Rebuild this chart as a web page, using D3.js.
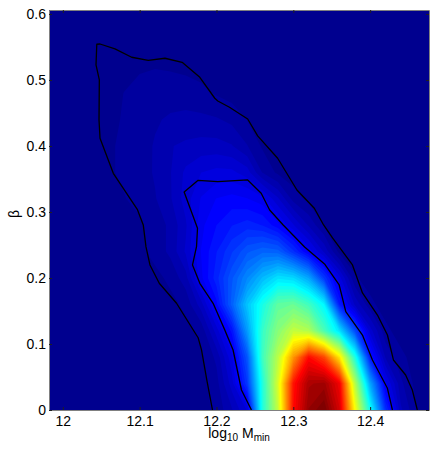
<!DOCTYPE html>
<html>
<head>
<meta charset="utf-8">
<title>log10 Mmin vs beta</title>
<script src="https://d3js.org/d3.v7.min.js"></script>
<style>
 body { margin: 0; background: #fff; }
 text { font-family: "Liberation Sans", Arial, sans-serif; fill: #000; }
 .axis path { stroke: #808080; fill: none; }
 .axis line { stroke: #202020; }
 .axis text { font-size: 14px; }
 .contour { fill: none; stroke: #000; stroke-width: 1.3; stroke-linejoin: round; }
</style>
</head>
<body>
<div id="chart"></div>
<script>
var xTicks = [12, 12.1, 12.2, 12.3, 12.4];
var yTicks = [0, 0.1, 0.2, 0.3, 0.4, 0.5, 0.6];

// grid columns of the density table
var massGrid = [12.04,12.06,12.08,12.10,12.12,12.14,12.16,12.18,12.20,12.22,12.24,12.26,12.28,12.30,12.32,12.34,12.36,12.38,12.40,12.42,12.44,12.46,12.48];
var betaGrid = [0,0.04,0.08,0.12,0.16,0.20,0.24,0.28,0.32,0.36,0.40,0.44,0.48,0.52,0.56,0.60];

// density in percent of the peak, one row per betaGrid value
var density = [
  [0,0,0,0,0.1,0.2,0.4,0.8,2,4.5,8,40,56,86,97,100,91,62,38,16,5,1.7,0.5],
  [0,0,0,0.1,0.2,0.3,0.6,1,2.5,7,17,40,58,85,95,96,88,55,28,10,3.5,1,0.3],
  [0,0,0,0.1,0.2,0.4,1,1.4,3.5,9,20,43,55,72,86,80,64,40,14,4.5,2,0.8,0.2],
  [0,0,0.1,0.2,0.3,0.5,1,2,7,13,27,42,50,56,54,44,34,19,7,2,0.8,0.3,0.1],
  [0,0.1,0.1,0.3,0.5,1,2,5.5,12,21,31,39,46,47,43,36,14,6,2,0.8,0.3,0.1,0],
  [0,0.1,0.2,0.4,1,2,4,10.5,15,20,25,30,34,33,28,17,8.5,1.8,0.8,0.3,0.1,0,0],
  [0.1,0.2,0.4,1.1,2.2,3.5,6.5,11,14,17,20,21.5,21,16,10.5,6,1,0.5,0.2,0.1,0,0,0],
  [0.1,0.3,0.7,1.3,2.2,3.5,6,10.5,12.5,14,14.8,14,11.5,8,4.5,1.5,0.6,0.2,0.1,0,0,0,0],
  [0.2,0.8,1.5,2,3,4.5,7,9.5,11,11.5,11,10,6.5,2.5,1,0.4,0.2,0.1,0,0,0,0,0],
  [0.7,1.4,1.8,2.4,3.3,4.6,6.6,7.8,8.3,8.2,7,3,1.2,0.5,0.2,0.1,0,0,0,0,0,0,0],
  [0.6,1.4,1.8,2.3,3.3,4.6,5,5.3,5.3,4.8,3.2,1.3,0.6,0.2,0.1,0,0,0,0,0,0,0,0],
  [0.4,1.2,1.7,2.2,2.9,3.4,3.6,3.5,3.3,2.7,1.5,0.7,0.3,0.1,0,0,0,0,0,0,0,0,0],
  [0.3,1,1.6,2,2.2,2.3,2.3,2,1.4,0.9,0.5,0.2,0.1,0,0,0,0,0,0,0,0,0,0],
  [0.1,0.5,1,1.4,1.5,1.4,1.2,0.9,0.5,0.3,0.1,0,0,0,0,0,0,0,0,0,0,0,0],
  [0,0.2,0.4,0.5,0.5,0.5,0.4,0.3,0.2,0.1,0,0,0,0,0,0,0,0,0,0,0,0,0],
  [0,0,0,0,0,0,0,0,0,0,0,0,0,0,0,0,0,0,0,0,0,0,0]
];

// outer confidence contour [log10 Mmin, beta]
var outerContour = [[12.1948,0],[12.1878,0.043],[12.1805,0.091],[12.1761,0.1095],[12.148,0.1617],[12.1255,0.192],[12.1134,0.2197],[12.1082,0.2474],[12.1047,0.2803],[12.0969,0.3041],[12.0657,0.3586],[12.0484,0.4117],[12.0471,0.4394],[12.0475,0.5],[12.0432,0.5227],[12.0442,0.5541],[12.0484,0.5545],[12.0679,0.547],[12.0896,0.5344],[12.1112,0.5298],[12.1329,0.5329],[12.1553,0.5268],[12.1783,0.5041],[12.1978,0.4723],[12.2017,0.4682],[12.2169,0.4586],[12.2406,0.4409],[12.2536,0.4152],[12.2796,0.3814],[12.3047,0.3333],[12.3273,0.3056],[12.3394,0.2803],[12.351,0.2606],[12.377,0.2197],[12.39,0.1773],[12.4095,0.1439],[12.4225,0.1136],[12.4303,0.0758],[12.4462,0.053],[12.4549,0.0303],[12.4614,0]];

// inner confidence contour
var innerContour = [[12.2455,0],[12.2325,0.0303],[12.2216,0.0909],[12.2108,0.1212],[12.1956,0.1617],[12.1783,0.192],[12.1688,0.2197],[12.174,0.2474],[12.1753,0.2753],[12.1579,0.3303],[12.1761,0.348],[12.2017,0.3459],[12.2406,0.3485],[12.2582,0.3283],[12.2692,0.303],[12.2868,0.2803],[12.3147,0.247],[12.3406,0.2212],[12.3597,0.1894],[12.3683,0.1489],[12.39,0.1136],[12.403,0.0758],[12.4225,0.0329],[12.429,0]];

var margin = {top:10,right:7,bottom:40,left:49};
var width = 436 - margin.left - margin.right;
var height = 450 - margin.top - margin.bottom;

var xScale = d3.scaleLinear().domain([11.982, 12.4766]).range([0, width]);
var yScale = d3.scaleLinear().domain([0, 0.606]).range([height, 0]);

var svg = d3.select("#chart").append("svg")
  .attr("width", 436)
  .attr("height", 450)
  .style("display", "block")
  .append("g")
  .attr("transform", "translate(" + margin.left + "," + margin.top + ")");

svg.append("clipPath").attr("id", "plot-clip")
  .append("rect").attr("width", width).attr("height", height);

// matlab style jet with 64 steps
function jet(k) {
  var t = (k + 1) / 64;
  function c(o) { return Math.round(255 * Math.max(0, Math.min(1, 1.5 - Math.abs(4 * t - o)))); }
  return "rgb(" + c(3) + "," + c(2) + "," + c(1) + ")";
}

var plot = svg.append("g").attr("clip-path", "url(#plot-clip)");

plot.append("rect")
  .attr("width", width)
  .attr("height", height)
  .attr("fill", jet(0));

var thresholds = d3.range(1, 64).map(function(k) { return k * 100 / 64; });
var contours = d3.contours()
  .size([massGrid.length, betaGrid.length])
  .thresholds(thresholds)(density.flat());

// contour coordinates sit half a cell off the grid index
var gridToPx = d3.geoTransform({
  point: function(cx, cy) {
    var mass = massGrid[0] + (cx - 0.5) * (massGrid[1] - massGrid[0]);
    var beta = betaGrid[0] + (cy - 0.5) * (betaGrid[1] - betaGrid[0]);
    this.stream.point(xScale(mass), yScale(beta));
  }
});
var gridPath = d3.geoPath(gridToPx);

plot.selectAll(".band")
  .data(contours)
  .enter()
  .append("path")
  .attr("class", "band")
  .attr("d", gridPath)
  .attr("fill", function(d, i) { return jet(i + 1); });

var line = d3.line()
  .x(function(d) { return xScale(d[0]); })
  .y(function(d) { return yScale(d[1]); });

plot.selectAll(".contour")
  .data([outerContour, innerContour])
  .enter()
  .append("path")
  .attr("class", "contour")
  .attr("d", line);

var xFormat = function(d) { return String(d); };
var yFormat = function(d) { return String(d); };

svg.append("g")
  .attr("class", "axis")
  .attr("transform", "translate(0," + height + ")")
  .call(d3.axisBottom(xScale).tickValues(xTicks).tickFormat(xFormat).tickSize(-3).tickSizeOuter(0).tickPadding(6));

svg.append("g")
  .attr("class", "axis")
  .call(d3.axisLeft(yScale).tickValues(yTicks).tickFormat(yFormat).tickSize(-3).tickSizeOuter(0).tickPadding(3));

svg.append("g")
  .attr("class", "axis")
  .call(d3.axisTop(xScale).tickValues(xTicks).tickFormat("").tickSize(-3).tickSizeOuter(0));

svg.append("g")
  .attr("class", "axis")
  .attr("transform", "translate(" + width + ",0)")
  .call(d3.axisRight(yScale).tickValues(yTicks).tickFormat("").tickSize(-3).tickSizeOuter(0));

var xLabel = svg.append("text")
  .attr("x", 190)
  .attr("y", 428)
  .attr("text-anchor", "middle")
  .style("font-size", "14px");
xLabel.append("tspan").text("log");
xLabel.append("tspan").attr("dy", 3).style("font-size", "10px").text("10");
xLabel.append("tspan").attr("dy", -3).text(" M");
xLabel.append("tspan").attr("dy", 3).style("font-size", "10px").text("min");

svg.append("text")
  .attr("transform", "translate(-30,204) rotate(-90)")
  .attr("text-anchor", "middle")
  .style("font-size", "14px")
  .text("β");
</script>
</body>
</html>
